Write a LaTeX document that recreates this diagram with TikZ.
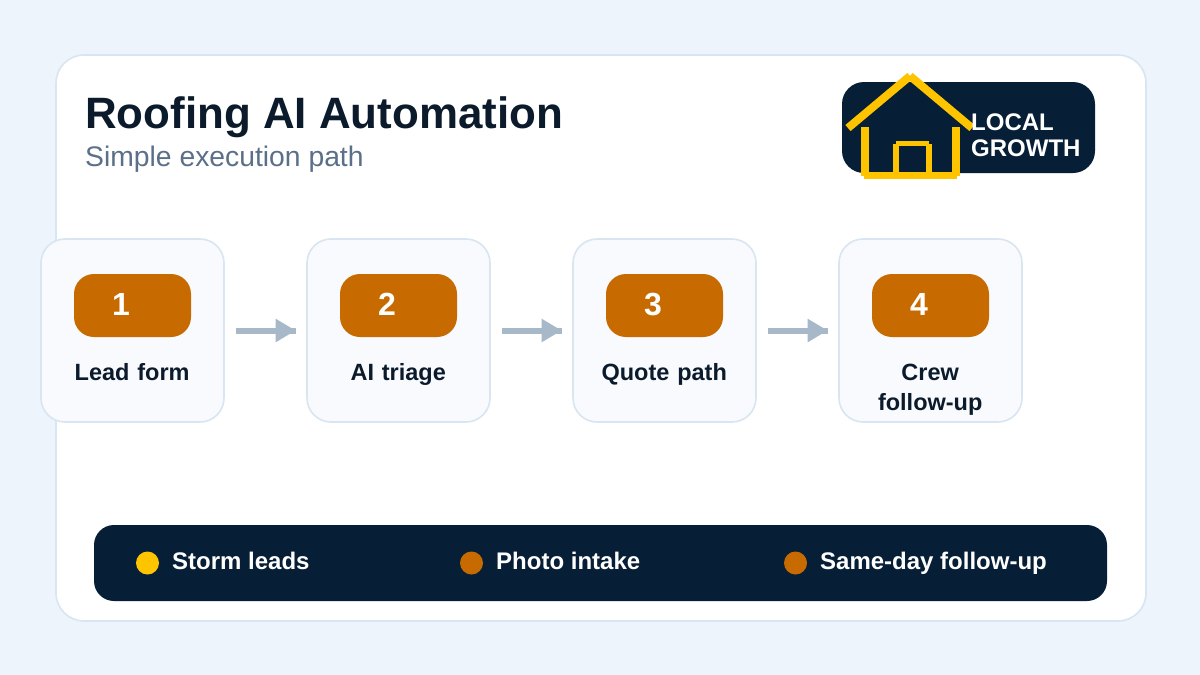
\documentclass[tikz,border=0pt]{standalone}
\usepackage{fontspec}
\setmainfont{Liberation Sans}
\usetikzlibrary{arrows.meta}

\definecolor{pagebg}{HTML}{EDF4FB}
\definecolor{edgeblue}{HTML}{D9E5F0}
\definecolor{stepbg}{HTML}{F8FAFD}
\definecolor{navy}{HTML}{071F36}
\definecolor{burnt}{HTML}{C76A00}
\definecolor{amber}{HTML}{FFC400}
\definecolor{flowgrey}{HTML}{A7B8C8}
\definecolor{inkdark}{HTML}{0B1B2B}
\definecolor{inkgrey}{HTML}{5B7088}

\tikzset{
	stepcard/.style={draw=edgeblue, fill=stepbg, line width=1.6pt, rounded corners=24pt, minimum width=183pt, minimum height=183pt, inner sep=0pt},
	badge/.style={fill=burnt, rounded corners=20pt, minimum width=117pt, minimum height=63pt, inner sep=0pt},
	badgenum/.style={text=white, font=\fontsize{32}{36}\selectfont\bfseries, inner sep=0pt, anchor=base},
	steptext/.style={text=inkdark, font=\fontsize{23.5}{30}\selectfont\bfseries, inner sep=0pt, align=center, anchor=base},
	flow/.style={draw=flowgrey, line width=6pt, shorten <=11.2pt, shorten >=10.5pt},
	flowhead/.style={flow, -{Triangle[length=20pt, width=22pt]}},
	legendtext/.style={text=white, font=\fontsize{24}{28}\selectfont\bfseries, inner sep=0pt, anchor=base west},
	legenddot/.style={circle, minimum size=23pt, inner sep=0pt},
	logotext/.style={text=white, font=\fontsize{24}{28}\selectfont\bfseries, inner sep=0pt, anchor=base west},
	roofline/.style={draw=amber, line width=8pt},
}

\begin{document}
\begin{tikzpicture}[x=1pt, y=-1pt]
		\useasboundingbox (0,0) rectangle (1200,675);
		\fill[pagebg] (0,0) rectangle (1200,675);
		\node[draw=edgeblue, fill=white, line width=1.6pt, rounded corners=28pt, minimum width=1090pt, minimum height=566pt, inner sep=0pt](panel) at (601,338){};

		\node[text=inkdark, font=\fontsize{43.9}{50}\selectfont\bfseries, inner sep=0pt, anchor=base west](title) at (85,128){Roofing AI Automation};
		\node[text=inkgrey, font=\fontsize{28.3}{32}\selectfont, inner sep=0pt, anchor=base west](subtitle) at (85,166){Simple execution path};

		% logo
		\node[fill=navy, rounded corners=22pt, minimum width=253pt, minimum height=91pt, inner sep=0pt](logo) at (968.5,127.5){};
		\draw[roofline] (848,128)--(910,76);
		\draw[roofline] (910,76)--(972,128);
		\draw[roofline] (865,127)--(865,176);
		\draw[roofline] (956,127)--(956,176);
		\draw[draw=amber, line width=7pt] (864,175.5)--(957,175.5);
		\draw[draw=amber, line width=6pt] (896,176)--(896,144);
		\draw[draw=amber, line width=6pt] (929,176)--(929,144);
		\draw[draw=amber, line width=5pt] (896,143.5)--(929,143.5);
		\node[logotext](local) at (971,130){LOCAL};
		\node[logotext](growth) at (971,156){GROWTH};

		% steps
		\foreach \m/\word in{
				0/Lead form,
				1/AI triage,
				2/Quote path,
				3/Crew follow-up
		}{
		\pgfmathtruncatemacro{\om}{\m+1}
		\pgfmathsetmacro{\sm}{132.5+266*\m}
		\node[stepcard](card\om) at (\sm,330.5){};
		\node[badge](badge\om) at (\sm,305.5){};
		\node[badgenum](num\om) at (\sm-11.5,315){\om};
		\node[steptext, text width=140pt](label\om) at (\sm-0.3,380){\word};
		}
		\foreach \m in{1,2,3}{
		\pgfmathtruncatemacro{\om}{\m+1}
		\draw[flow] (card\m.east)--(card\om.west);
		\draw[flowhead] (card\m.east)--(card\om.west);
		}

		% legend
		\node[fill=navy, rounded corners=20pt, minimum width=1013pt, minimum height=76pt, inner sep=0pt](legend) at (600.5,563){};
		\foreach \m/\x/\k/\word in{
				0/147.5/amber/Storm leads,
				1/471.5/burnt/Photo intake,
				2/795.5/burnt/Same-day follow-up
		}{
		\node[legenddot, fill=\k](dot\m) at (\x,563){};
		\node[legendtext](item\m) at (\x+24.5,569){\word};
		}
\end{tikzpicture}
\end{document}
